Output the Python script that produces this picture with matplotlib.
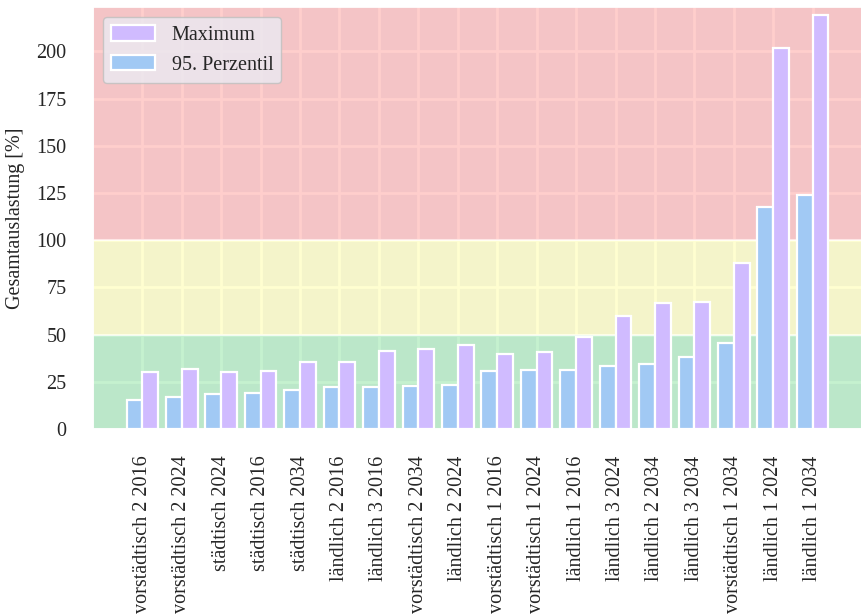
import matplotlib
matplotlib.use("Agg")
import matplotlib.pyplot as plt
import seaborn as sns
import numpy as np

# Szenarien, sortiert nach 95. Perzentil
szenarien = [
    "vorstädtisch 2 2016", "vorstädtisch 2 2024", "städtisch 2024", "städtisch 2016",
    "städtisch 2034", "ländlich 2 2016", "ländlich 3 2016", "vorstädtisch 2 2034",
    "ländlich 2 2024", "vorstädtisch 1 2016", "vorstädtisch 1 2024", "ländlich 1 2016",
    "ländlich 3 2024", "ländlich 2 2034", "ländlich 3 2034", "vorstädtisch 1 2034",
    "ländlich 1 2024", "ländlich 1 2034",
]
perzentil_95 = [15.2, 16.8, 18.5, 18.9, 20.7, 22.1, 22.4, 22.8, 23.5,
                30.9, 31.2, 31.2, 33.4, 34.3, 38.1, 45.4, 117.4, 124.1]
maximum = [30.0, 31.9, 30.2, 30.6, 35.6, 35.3, 41.5, 42.4, 44.5,
           39.7, 40.6, 48.9, 59.9, 66.6, 67.3, 87.8, 201.6, 219.4]

# Auslastungsbereiche (grün / gelb / rot)
bereich_grenzen = [0, 50, 100, 300]

sns.set_theme(style="darkgrid", palette="pastel")
plt.rcParams['font.family'] = ['Liberation Serif', 'DejaVu Serif']
plt.rcParams['font.size'] = 14.5
plt.rcParams['grid.linewidth'] = 2.0

pal = sns.color_palette("pastel")
farbe_max = pal[4]
farbe_p95 = pal[0]
bereich_farben = [pal[2], pal[8], pal[3]]

fig = plt.figure(figsize=(8.62, 6.15), dpi=100)
ax = fig.add_axes([93 / 862, 1 - 429 / 615, 1 - 93 / 862, 422 / 615])

for (lo, hi), c in zip(zip(bereich_grenzen[:-1], bereich_grenzen[1:]), bereich_farben):
    ax.axhspan(lo, hi, facecolor=c, alpha=0.5, edgecolor="white", linewidth=1.5)

x = np.arange(len(szenarien))
breite = 0.4
b_p95 = ax.bar(x - breite / 2, perzentil_95, breite, color=farbe_p95,
               edgecolor="white", linewidth=1.6, label="95. Perzentil")
b_max = ax.bar(x + breite / 2, maximum, breite, color=farbe_max,
               edgecolor="white", linewidth=1.6, label="Maximum")

ax.set_xlim(-1.25, len(szenarien) - 1 + 1.25)
ax.set_ylim(0, 223.5)
ax.set_yticks(np.arange(0, 201, 25))
ax.set_xticks(x)
ax.set_xticklabels(szenarien, rotation=90, fontsize=14.5)
ax.tick_params(axis="x", pad=19, length=0)
ax.tick_params(axis="y", pad=19, length=0, labelsize=14.5)
ax.set_ylabel("Gesamtauslastung [%]", fontsize=14.5, labelpad=8)

leg = ax.legend(handles=[b_max, b_p95], loc="upper left", fontsize=14.5,
                facecolor="#EAEAF2", framealpha=0.8, edgecolor="0.75",
                handlelength=2.2, handleheight=0.8)

fig.savefig("out.png", dpi=100)
